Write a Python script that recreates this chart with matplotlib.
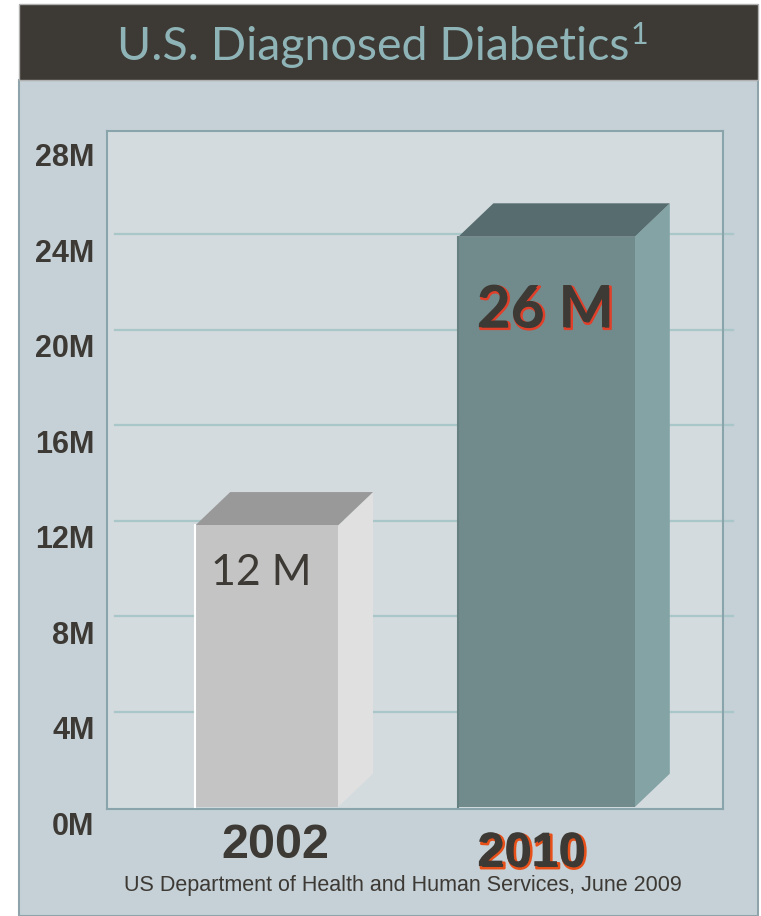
import matplotlib
matplotlib.use("Agg")
import matplotlib.pyplot as plt
import matplotlib.patheffects as pe
from matplotlib.patches import Polygon, Rectangle
from matplotlib.transforms import ScaledTranslation

# data
years = ["2002", "2010"]
bar_heights = [11.8, 23.9]          # in millions, where the bar tops sit
value_labels = ["12 M", "26 M"]
y_ticks = [0, 4, 8, 12, 16, 20, 24, 28]
y_tick_labels = ["0M", "4M", "8M", "12M", "16M", "20M", "24M", "28M"]
grid_levels = [4, 8, 12, 16, 20, 24]
title = "U.S. Diagnosed Diabetics"
source = "US Department of Health and Human Services, June 2009"

W, H = 761, 916
DARK = "#3d3934"

fig = plt.figure(figsize=(W / 100, H / 100), dpi=100)
fig.patch.set_facecolor("white")


def fx(px):
    return px / W


def fy(py):
    return 1 - py / H


# panel + banner
fig.patches.append(Rectangle((fx(19), fy(916)), fx(739), 836 / H, transform=fig.transFigure,
                             facecolor="#c5d1d6", edgecolor="#8fa3ab", lw=1.5, zorder=-2))
fig.patches.append(Rectangle((fx(19), fy(80)), fx(739), 76 / H, transform=fig.transFigure,
                             facecolor=DARK, edgecolor="#b0b0b0", lw=1.0, zorder=-1))

t = fig.text(fx(117), fy(47), title, fontsize=33.5, family="Lato", color="#8fb4b7",
             ha="left", va="center")
fig.canvas.draw()
bb = t.get_window_extent(fig.canvas.get_renderer())
fig.text(bb.x1 / W + 0.002, fy(35), "1", fontsize=22, family="Lato", color="#8fb4b7",
         ha="left", va="center")

# plot box
ax = fig.add_axes([fx(107), fy(809), fx(616), (809 - 131) / H])
ax.set_zorder(2)
ax.set_facecolor("#d3dbde")
for s in ax.spines.values():
    s.set_color("#8aa4ab")
    s.set_linewidth(1.5)
ax.set_xlim(-0.57, 1.63)
ax.set_ylim(-0.08, 28.33)
ax.set_xticks([])
ax.set_yticks(y_ticks)
ax.set_yticklabels(y_tick_labels)
ax.tick_params(axis="y", length=0, pad=9, labelsize=22, labelcolor=DARK)
off = ScaledTranslation(0, -16 / 100, fig.dpi_scale_trans)
for lbl in ax.get_yticklabels():
    lbl.set_fontfamily("Liberation Sans")
    lbl.set_fontweight("bold")
    lbl.set_transform(lbl.get_transform() + off)

# back wall grid lines, sticking out on the right
gx0 = -0.57 + 8 / 280
gx1 = 1.63 + 10 / 280
for g in grid_levels:
    ax.plot([gx0, gx1], [g, g], color="#a9c7c8", lw=1.6, clip_on=False, zorder=1)

widths = [0.51, 0.63]
dx, dy = 0.125, 1.4
styles = [
    dict(front="#c4c4c4", top="#999999", side="#e0e0e0", edge="#ffffff"),
    dict(front="#718b8d", top="#566c6e", side="#84a3a5", edge="#667f81"),
]
for i, (h, w, st) in enumerate(zip(bar_heights, widths, styles)):
    x0, x1 = i - w / 2, i + w / 2
    ax.add_patch(Polygon([(x1, 0), (x1 + dx, dy), (x1 + dx, h + dy), (x1, h)],
                         closed=True, facecolor=st["side"], edgecolor="none", zorder=3))
    ax.add_patch(Polygon([(x0, h), (x0 + dx, h + dy), (x1 + dx, h + dy), (x1, h)],
                         closed=True, facecolor=st["top"], edgecolor="none", zorder=3))
    ax.add_patch(Rectangle((x0, 0), w, h, facecolor=st["front"], edgecolor="none", zorder=4))
    ax.plot([x0, x0], [0, h], color=st["edge"], lw=1.5, zorder=5)

# value labels
ax.text(-0.02, 9.8, value_labels[0], fontsize=31, family="Lato", color=DARK,
        ha="center", va="center", zorder=6)
ax.text(0.995, 20.8, value_labels[1], fontsize=42, family="Lato", fontweight="bold",
        color=DARK, ha="center", va="center", zorder=6,
        path_effects=[pe.Stroke(linewidth=1.8, foreground="#e0402a", offset=(1.2, -1.2)),
                      pe.Normal()])

# year labels under the box
ax.text(0.03, -1.62, years[0], fontsize=35, family="Liberation Sans", fontweight="bold",
        color=DARK, ha="center", va="center", clip_on=False)
ax.text(0.945, -1.95, years[1], fontsize=35, family="Liberation Sans", fontweight="bold",
        color=DARK, ha="center", va="center", clip_on=False,
        path_effects=[pe.Stroke(linewidth=1.8, foreground="#e8501a", offset=(1.5, -1.5)),
                      pe.Normal()])

fig.text(fx(403), fy(886), source, fontsize=15.5, family="Liberation Sans", color=DARK,
         ha="center", va="center")

fig.savefig("out.png", dpi=100)
